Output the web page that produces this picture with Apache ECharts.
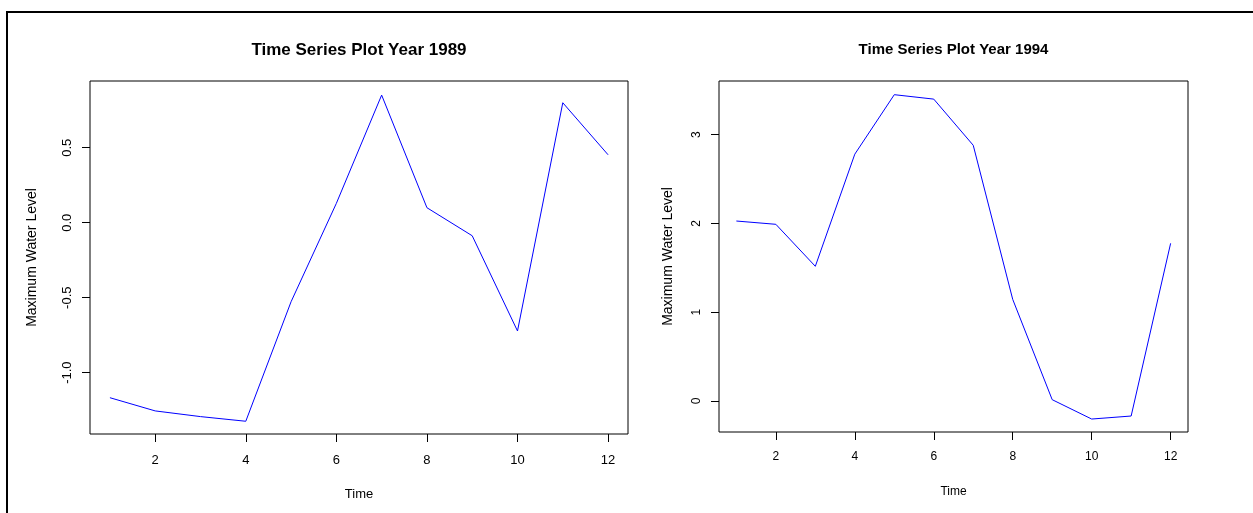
<!DOCTYPE html>
<html>
<head>
<meta charset="utf-8">
<script src="https://cdn.jsdelivr.net/npm/echarts@6/dist/echarts.min.js"></script>
<style>
  html, body { margin: 0; padding: 0; background: #fff; }
  #chart { width: 1253px; height: 513px; }
</style>
</head>
<body>
<div id="chart"></div>
<script>
// ---- Data ----
const time = [1, 2, 3, 4, 5, 6, 7, 8, 9, 10, 11, 12];
const level1989 = [-1.167, -1.255, -1.293, -1.324, -0.527, 0.129, 0.851, 0.100, -0.087, -0.722, 0.800, 0.453];
const level1994 = [2.027, 1.990, 1.517, 2.780, 3.450, 3.400, 2.880, 1.145, 0.015, -0.203, -0.169, 1.776];
const xTicks = [2, 4, 6, 8, 10, 12];
const yTicks1989 = [-1.0, -0.5, 0.0, 0.5];
const yTicks1994 = [0, 1, 2, 3];
const titles = ['Time Series Plot Year 1989', 'Time Series Plot Year 1994'];
const xName = 'Time';
const yName = 'Maximum Water Level';

const FONT = "'Liberation Sans', Arial, sans-serif";

function pairs(xs, ys) { return xs.map((x, i) => [x, ys[i]]); }

function xAxisCfg(gridIndex, fs, margin, nameGap) {
  return {
    type: 'value', gridIndex, position: 'bottom',
    min: 0.56, max: 12.44,
    name: xName, nameLocation: 'middle', nameGap,
    nameTextStyle: { color: '#000', fontSize: fs, fontFamily: FONT },
    axisLine: { show: false, onZero: false },
    axisTick: { show: true, length: 8, inside: false, customValues: xTicks, lineStyle: { color: '#000', width: 1 } },
    axisLabel: { show: true, customValues: xTicks, margin, color: '#000', fontSize: fs, fontFamily: FONT },
    splitLine: { show: false }
  };
}
function yAxisCfg(gridIndex, min, max, ticks, fmt, fs, nameFs, margin, nameGap) {
  return {
    type: 'value', gridIndex, min, max, position: 'left',
    name: yName, nameLocation: 'middle', nameGap, nameRotate: 90,
    nameTextStyle: { color: '#000', fontSize: nameFs, fontFamily: FONT },
    axisLine: { show: false, onZero: false },
    axisTick: { show: true, length: 8, inside: false, customValues: ticks, lineStyle: { color: '#000', width: 1 } },
    axisLabel: { show: true, customValues: ticks, rotate: 90, margin, color: '#000', fontSize: fs, fontFamily: FONT, formatter: fmt },
    splitLine: { show: false }
  };
}

const chart = echarts.init(document.getElementById('chart'), null, { renderer: 'canvas' });
chart.setOption({
  animation: false,
  backgroundColor: '#fff',
  grid: [
    { left: 90, top: 81, width: 538, height: 353, show: true, borderColor: '#000', borderWidth: 1, backgroundColor: 'transparent', containLabel: false },
    { left: 719, top: 81, width: 469, height: 351, show: true, borderColor: '#000', borderWidth: 1, backgroundColor: 'transparent', containLabel: false }
  ],
  xAxis: [
    xAxisCfg(0, 13, 20, 54),
    xAxisCfg(1, 12, 19, 54)
  ],
  yAxis: [
    yAxisCfg(0, -1.409, 0.945, yTicks1989, v => v.toFixed(1), 13, 14, 16, 51),
    yAxisCfg(1, -0.349, 3.604, yTicks1994, v => String(Math.round(v)), 12, 14, 16, 44)
  ],
  series: [
    { type: 'line', xAxisIndex: 0, yAxisIndex: 0, data: pairs(time, level1989), showSymbol: false, symbol: 'none',
      lineStyle: { color: '#0000ff', width: 1 }, silent: true },
    { type: 'line', xAxisIndex: 1, yAxisIndex: 1, data: pairs(time, level1994), showSymbol: false, symbol: 'none',
      lineStyle: { color: '#0000ff', width: 1 }, silent: true }
  ],
  graphic: [
    { type: 'rect', shape: { x: 6, y: 11, width: 1247, height: 2 }, style: { fill: '#000' }, silent: true },
    { type: 'rect', shape: { x: 6, y: 11, width: 2, height: 502 }, style: { fill: '#000' }, silent: true },
    { type: 'text', x: 359, y: 50, style: { text: titles[0], fill: '#000', font: "bold 17px " + FONT, textAlign: 'center', textVerticalAlign: 'middle' }, silent: true },
    { type: 'text', x: 953.5, y: 50, style: { text: titles[1], fill: '#000', font: "bold 15px " + FONT, textAlign: 'center', textVerticalAlign: 'middle' }, silent: true }
  ]
});
</script>
</body>
</html>
